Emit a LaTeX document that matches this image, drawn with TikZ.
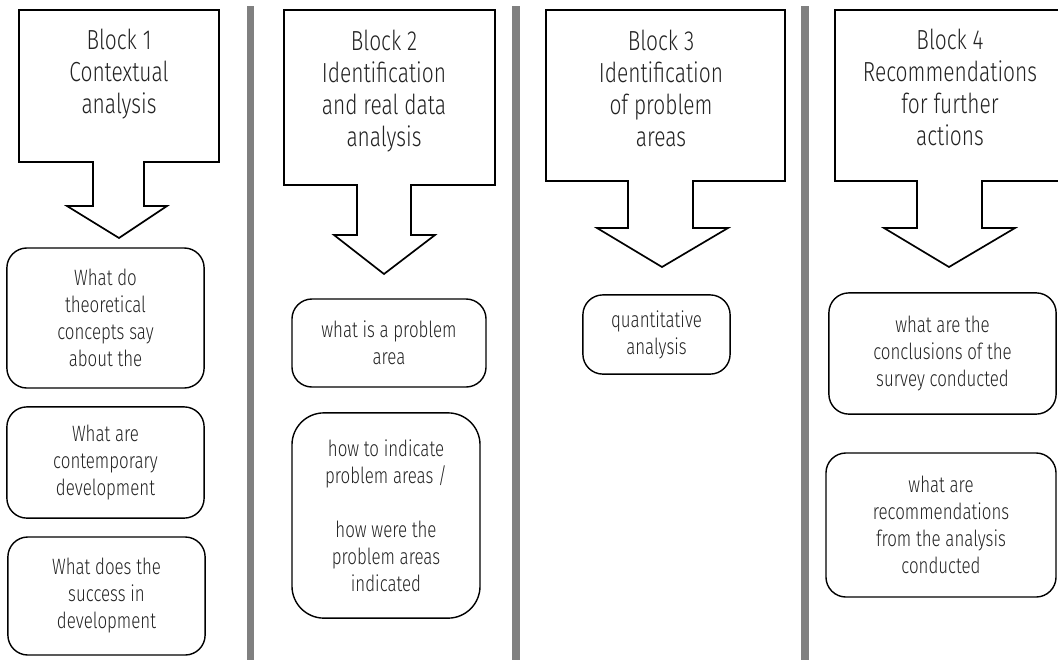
\documentclass[tikz,border=0pt]{standalone}
\usepackage{fontspec}
\setmainfont{Fira Sans Light}[FakeStretch=0.76]
\usepackage{xcolor}
\usepackage{tikz}
\definecolor{sepgray}{HTML}{808080}
\definecolor{inkgray}{HTML}{222222}

\begin{document}
\begin{tikzpicture}[x=0.025cm, y=-0.025cm,
        blockarrow/.style={line width=1.2pt, draw=black, fill=white, line join=miter},
        blocktext/.style={anchor=north, inner sep=0pt, align=center, text=inkgray, font=\fontsize{19.6}{22.8}\selectfont},
        qbox/.style={draw, line width=1pt, rounded corners=0.5cm, align=center, text=inkgray, font=\fontsize{15.8}{19.2}\selectfont},
        separator/.style={line width=5pt, draw=sepgray}]
        \useasboundingbox (0,0) rectangle (1058,660);
        \clip (0,0) rectangle (1058,660);

        \draw[separator] (250.5,6) -- (250.5,660);
        \draw[separator] (516,6) -- (516,660);
        \draw[separator] (805,6) -- (805,660);

        \draw[blockarrow] (19,10) -- (219,10) -- (219,162) -- (144,162) -- (144,206) -- (167,206)
            -- (119,238) -- (67,206) -- (93,206) -- (93,162) -- (19,162) -- cycle;
        \draw[blockarrow] (284,10) -- (495,10) -- (495,185) -- (411,185) -- (411,235) -- (435,235)
            -- (384,274) -- (334,235) -- (357,235) -- (357,185) -- (284,185) -- cycle;
        \draw[blockarrow] (546,10) -- (785,10) -- (785,181) -- (693,181) -- (693,228) -- (728,228)
            -- (662,267) -- (597,228) -- (628,228) -- (628,181) -- (546,181) -- cycle;
        \draw[blockarrow] (835,10) -- (1065,10) -- (1065,181) -- (982,181) -- (982,228) -- (1015,228)
            -- (949,267) -- (884,228) -- (917,228) -- (917,181) -- (835,181) -- cycle;

        \node[blocktext] (block1) at (119,29) {Block 1\\Contextual\\analysis};
        \node[blocktext] (block2) at (384,30) {Block 2\\Identification\\and real data\\analysis};
        \node[blocktext] (block3) at (661,30) {Block 3\\Identification\\of problem\\areas};
        \node[blocktext] (block4) at (950,29) {Block 4\\Recommendations\\for further\\actions};

        \node[qbox, minimum width=4.93cm, minimum height=3.5cm] (theory) at (105.5,318)
            {What do\\theoretical\\concepts say\\about the};
        \node[qbox, minimum width=4.93cm, minimum height=2.78cm] (contemp) at (105.5,462.5)
            {What are\\contemporary\\development};
        \node[qbox, minimum width=4.93cm, minimum height=2.95cm] (success) at (106.5,596)
            {What does the\\success in\\development};

        \node[qbox, minimum width=4.85cm, minimum height=2.2cm] (whatarea) at (389,343)
            {what is a problem\\area};
        \node[qbox, rounded corners=0.8cm, minimum width=4.7cm, minimum height=5.13cm] (howarea) at (386,515.5)
            {how to indicate\\problem areas /\\[19.2pt]how were the\\problem areas\\indicated};

        \node[qbox, minimum width=3.68cm, minimum height=1.98cm] (quant) at (656.5,334.5)
            {quantitative\\analysis};

        \node[qbox, minimum width=5.68cm, minimum height=3.03cm] (concl) at (942.5,353.5)
            {what are the\\conclusions of the\\survey conducted};
        \node[qbox, minimum width=5.75cm, minimum height=3.6cm] (recomm) at (941,525)
            {what are\\recommendations\\from the analysis\\conducted};
\end{tikzpicture}
\end{document}
